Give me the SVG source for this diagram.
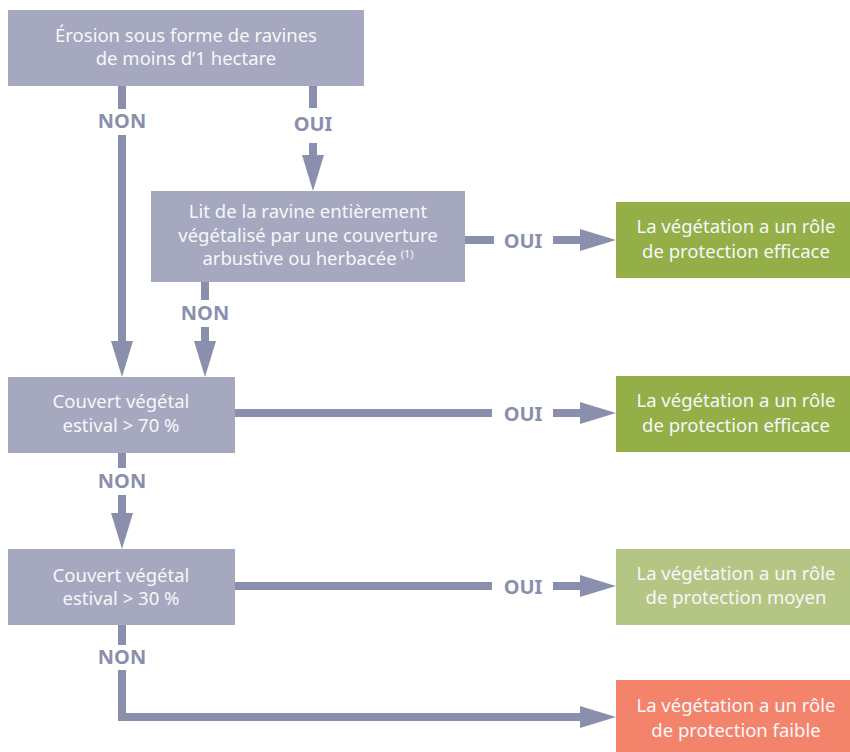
<svg xmlns="http://www.w3.org/2000/svg" width="850" height="752" viewBox="0 0 850 752">
  <style>
    .q { fill: #a5a8bf; }
    .t { font-family: "Noto Sans", "Open Sans", sans-serif; font-size: 18.5px; fill: #f7f7fa; text-anchor: middle; }
    .sup { font-size: 11px; }
    .lbl { font-family: "Noto Sans", "Open Sans", sans-serif; font-size: 20px; font-weight: bold; fill: #8a8fae; text-anchor: middle; }
    .c { fill: none; stroke: #8a8fae; stroke-width: 8; stroke-linejoin: miter; }
    .ok { fill: #94af48; }
    .mid { fill: #b5c583; }
    .low { fill: #f3846b; }
  </style>
  <defs>
    <marker id="head" markerUnits="userSpaceOnUse" markerWidth="36" markerHeight="22" refX="0" refY="11" orient="auto" overflow="visible">
      <path d="M0,0 L36,11 L0,22 Z" fill="#8a8fae"/>
    </marker>
  </defs>

  <rect width="850" height="752" fill="#ffffff"/>

  <!-- connectors -->
  <g id="connectors">
    <path class="c" d="M122,86 V109"/>
    <path class="c" d="M122,135 V341" marker-end="url(#head)"/>
    <path class="c" d="M313,86 V108"/>
    <path class="c" d="M313,143 V155" marker-end="url(#head)"/>
    <path class="c" d="M465,240 H494"/>
    <path class="c" d="M553,240 H580" marker-end="url(#head)"/>
    <path class="c" d="M205,282 V300"/>
    <path class="c" d="M205,327 V341" marker-end="url(#head)"/>
    <path class="c" d="M235,413 H492"/>
    <path class="c" d="M553,413 H580" marker-end="url(#head)"/>
    <path class="c" d="M122,453 V468"/>
    <path class="c" d="M122,495 V513" marker-end="url(#head)"/>
    <path class="c" d="M235,586 H492"/>
    <path class="c" d="M553,586 H580" marker-end="url(#head)"/>
    <path class="c" d="M122,625 V645"/>
    <path class="c" d="M122,670 V717 H580" marker-end="url(#head)"/>

    <text class="lbl" x="122" y="128">NON</text>
    <text class="lbl" x="313" y="131">OUI</text>
    <text class="lbl" x="523" y="248">OUI</text>
    <text class="lbl" x="205" y="320">NON</text>
    <text class="lbl" x="523" y="421">OUI</text>
    <text class="lbl" x="122" y="488">NON</text>
    <text class="lbl" x="523" y="594">OUI</text>
    <text class="lbl" x="122" y="664">NON</text>
  </g>

  <!-- question nodes -->
  <g id="q-erosion">
    <rect class="q" x="8" y="10" width="356" height="76"/>
    <text class="t" x="186" y="42">Érosion sous forme de ravines</text>
    <text class="t" x="186" y="65">de moins d’1 hectare</text>
  </g>
  <g id="q-lit">
    <rect class="q" x="151" y="191" width="314" height="91"/>
    <text class="t" x="308" y="218">Lit de la ravine entièrement</text>
    <text class="t" x="308" y="242">végétalisé par une couverture</text>
    <text class="t" x="308" y="265">arbustive ou herbacée<tspan class="sup" dx="4" dy="-7">(1)</tspan></text>
  </g>
  <g id="q-70">
    <rect class="q" x="8" y="377" width="227" height="76"/>
    <text class="t" x="121" y="408">Couvert végétal</text>
    <text class="t" x="121" y="432">estival &gt; 70 %</text>
  </g>
  <g id="q-30">
    <rect class="q" x="8" y="549" width="227" height="76"/>
    <text class="t" x="121" y="582">Couvert végétal</text>
    <text class="t" x="121" y="605">estival &gt; 30 %</text>
  </g>

  <!-- outcome nodes -->
  <g id="r-efficace-1">
    <rect class="ok" x="616" y="202" width="236" height="76"/>
    <text class="t" x="736" y="233">La végétation a un rôle</text>
    <text class="t" x="736" y="258">de protection efficace</text>
  </g>
  <g id="r-efficace-2">
    <rect class="ok" x="616" y="376" width="236" height="76"/>
    <text class="t" x="736" y="407">La végétation a un rôle</text>
    <text class="t" x="736" y="432">de protection efficace</text>
  </g>
  <g id="r-moyen">
    <rect class="mid" x="616" y="549" width="236" height="76"/>
    <text class="t" x="736" y="580">La végétation a un rôle</text>
    <text class="t" x="736" y="604">de protection moyen</text>
  </g>
  <g id="r-faible">
    <rect class="low" x="616" y="680" width="236" height="72"/>
    <text class="t" x="736" y="712">La végétation a un rôle</text>
    <text class="t" x="736" y="737">de protection faible</text>
  </g>
</svg>
